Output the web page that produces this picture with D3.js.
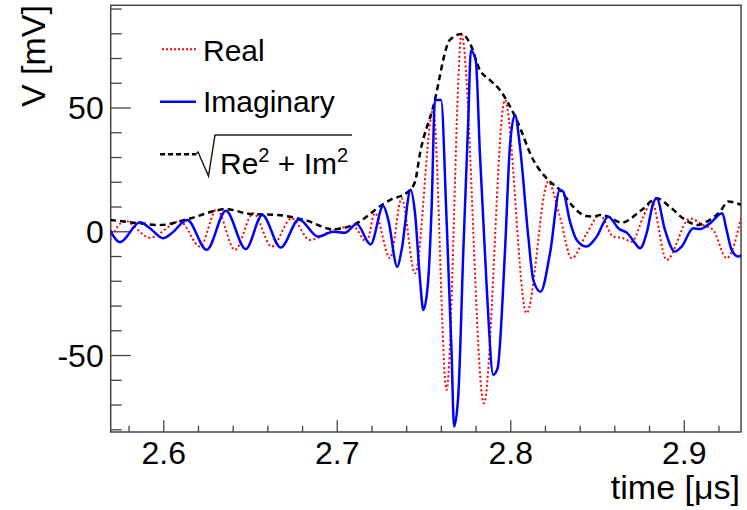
<!DOCTYPE html>
<html>
<head>
<meta charset="utf-8">
<script src="https://cdn.jsdelivr.net/npm/d3@7"></script>
<style>
  body { margin: 0; background: white; }
  text { font-family: "Liberation Sans", Arial, sans-serif; }
</style>
</head>
<body>
<div id="container"></div>
<script>
// time [us] and voltage [mV]
let realTime = [2.5693, 2.5779, 2.5923, 2.6096, 2.6212, 2.6308, 2.6413, 2.6519, 2.6625, 2.6740,
  2.6846, 2.6980, 2.7095, 2.7172, 2.7220, 2.7307, 2.7374, 2.7451, 2.7556, 2.7633,
  2.7720, 2.7848, 2.7969, 2.8094, 2.8219, 2.8286, 2.8354, 2.8440, 2.8517, 2.8594,
  2.8651, 2.8700, 2.8767, 2.8815, 2.8901, 2.9035, 2.9113, 2.9170, 2.9247, 2.9334];
let realValue = [-3.5, 4.2, -2.6, 4.0, -6.2, 8.9, -7.5, 7.3, -6.2, 5.2,
  -3.5, 0.5, 1.9, -4.2, 7.3, -10.9, 13.3, -17, 49, -64.1,
  79.3, -69.5, 53, -33.1, 20, 5.9, -10.9, -1.0, 6.6, -2.2,
  -2.8, -4.2, 5.9, 12, -11.6, 5.2, 2.5, 0.5, -10.9, 6.6];

let imagTime = [2.5693, 2.5750, 2.5866, 2.5923, 2.6000, 2.6048, 2.6138, 2.6250, 2.6361, 2.6475,
  2.6571, 2.6677, 2.6782, 2.6893, 2.6980, 2.7047, 2.7115, 2.7195, 2.7268, 2.7297,
  2.7349, 2.7374, 2.7426, 2.7451, 2.7480, 2.7499, 2.7527, 2.7547, 2.7566, 2.7601,
  2.7633, 2.7662, 2.7676, 2.7700, 2.7729, 2.7758, 2.7773, 2.7801, 2.7825, 2.7864,
  2.7902, 2.7927, 2.7969, 2.7998, 2.8027, 2.8056, 2.8104, 2.8133, 2.8175, 2.8229,
  2.8286, 2.8305, 2.8344, 2.8383, 2.8440, 2.8498, 2.8565, 2.8623, 2.8680, 2.8719,
  2.8748, 2.8786, 2.8824, 2.8844, 2.8892, 2.8949, 2.8988, 2.9055, 2.9094, 2.9151,
  2.9222, 2.9247, 2.9276, 2.9314, 2.9334];
let imagValue = [0.5, -4.4, 3.6, 1.2, -2.8, -0.8, 4.6, -7.5, 8.3, -7.2,
  6.6, -6.6, 4.8, -2.2, -0.2, -0.6, 2.9, -5.3, 10.2, 4.6,
  -14.4, -7.5, 16.8, 7.3, -19.7, -31.8, -19.7, 10, 53, 53,
  4.6, -49.3, -78.9, -66.8, -8.9, 45, 72.9, 69.2, 31.5, -22.4,
  -58, -55.3, -8.9, 34.2, 47, 34.2, -2.2, -19.7, -24.4, -8.9,
  16.7, 16, 4, -3.5, -6.2, -2.2, 5.9, 1.2, -1.1, -4.8,
  -6.9, -0.8, 11.3, 13.3, 0.5, -8.2, -6.2, 1.2, 0.9, 3.2,
  7.3, 0.5, -7.5, -10.2, -9.6];

let absTime = [2.5693, 2.5866, 2.5981, 2.6135, 2.6365, 2.6500, 2.6654, 2.6827, 2.6980, 2.7105,
  2.7268, 2.7307, 2.7412, 2.7451, 2.7480, 2.7556, 2.7652, 2.7720, 2.7768, 2.7825,
  2.7883, 2.7941, 2.8037, 2.8133, 2.8219, 2.8286, 2.8363, 2.8392, 2.8431, 2.8478,
  2.8517, 2.8565, 2.8642, 2.8757, 2.8844, 2.8920, 2.8997, 2.9084, 2.9132, 2.9209,
  2.9257, 2.9334];
let absValue = [4.6, 3.2, 2.5, 4.8, 8.9, 7.0, 6.6, 4.3, 0.8, 2.9,
  11, 12.6, 16, 20, 31.5, 50.3, 77.3, 79.7, 75.9, 65.1,
  61.1, 57, 45, 28.8, 20.7, 16.7, 9.9, 7.9, 6.3, 5.9,
  6.6, 5.9, 3.5, 8.6, 13.3, 9.9, 5.2, 2.5, 3.9, 7.9,
  12, 10.6];

let xMajorTicks = [2.6, 2.7, 2.8, 2.9];
let yMajorTicks = [-50, 0, 50];
let xDomain = [2.5697, 2.9330];
let yDomain = [-81.1, 91.3];

let w = 747;
let h = 510;
let padLeft = 110.7, padRight = 741, padTop = 5.3, padBottom = 432;

let viz = d3.select("#container")
  .append("svg")
    .attr("width", w)
    .attr("height", h)
;

let xScale = d3.scaleLinear().domain(xDomain).range([padLeft, padRight]);
let yScale = d3.scaleLinear().domain(yDomain).range([padBottom, padTop]);

// minor ticks: 0.02 us and 10 mV
let xMinor = d3.range(2.58, 2.935, 0.02).filter(function(d){ return Math.abs(d*10 - Math.round(d*10)) > 1e-6; });
let yMinor = d3.range(-80, 91, 10).filter(function(d){ return d % 50 != 0; });

function styleAxis(g){
  g.select(".domain").remove();
  g.selectAll(".tick line").attr("stroke", "#444").attr("stroke-width", 1.3);
  g.selectAll("text")
    .attr("fill", "black")
    .style("font-family", "'Liberation Sans', Arial, sans-serif");
}

viz.append("g")
    .attr("transform", "translate(0," + padBottom + ")")
    .call(d3.axisBottom(xScale).tickValues(xMinor).tickSize(-6.3).tickFormat(""))
    .call(styleAxis);
viz.append("g")
    .attr("transform", "translate(0," + padBottom + ")")
    .call(d3.axisBottom(xScale).tickValues(xMajorTicks).tickSize(-11.7).tickPadding(8).tickFormat(d3.format(".1f")))
    .call(styleAxis)
    .selectAll("text")
      .attr("y", 32)
      .attr("dy", 0)
      .style("font-size", "32px");

viz.append("g")
    .attr("transform", "translate(" + padLeft + ",0)")
    .call(d3.axisLeft(yScale).tickValues(yMinor).tickSize(-11).tickFormat(""))
    .call(styleAxis);
viz.append("g")
    .attr("transform", "translate(" + padLeft + ",0)")
    .call(d3.axisLeft(yScale).tickValues(yMajorTicks).tickSize(-20).tickPadding(7)
      .tickFormat(function(d){ return String(d); }))
    .call(styleAxis)
    .selectAll("text")
      .attr("dy", "0.35em")
      .style("font-size", "32px");

// frame
viz.append("rect")
    .attr("x", padLeft)
    .attr("y", padTop)
    .attr("width", padRight - padLeft)
    .attr("height", padBottom - padTop)
    .attr("fill", "none")
    .attr("stroke", "#444")
    .attr("stroke-width", 1.5);

viz.append("clipPath").attr("id", "plotclip")
  .append("rect")
    .attr("x", padLeft).attr("y", padTop)
    .attr("width", padRight - padLeft).attr("height", padBottom - padTop);

let graphGroup = viz.append("g").attr("clip-path", "url(#plotclip)");

let lineMaker = d3.line()
  .x(function(d){ return xScale(d[0]); })
  .y(function(d){ return yScale(d[1]); })
  .curve(d3.curveMonotoneX)
;

let series = [
  { t: realTime, v: realValue, color: "#ff0000", width: 2, dash: "2,2.5" },
  { t: absTime, v: absValue, color: "black", width: 2.5, dash: "6,4" },
  { t: imagTime, v: imagValue, color: "#0000ff", width: 2.5, dash: null }
];

graphGroup.selectAll(".line").data(series).enter()
  .append("path")
    .attr("class", "line")
    .attr("d", function(s){ return lineMaker(d3.zip(s.t, s.v)); })
    .attr("fill", "none")
    .attr("stroke", function(s){ return s.color; })
    .attr("stroke-width", function(s){ return s.width; })
    .attr("stroke-dasharray", function(s){ return s.dash; })
    .attr("stroke-linejoin", "round");

// axis titles
viz.append("text")
    .attr("transform", "translate(45,5) rotate(-90)")
    .attr("text-anchor", "end")
    .style("font-size", "34px")
    .text("V [mV]");
viz.append("text")
    .attr("x", 740)
    .attr("y", 499)
    .attr("text-anchor", "end")
    .style("font-size", "34px")
    .text("time [μs]");

// legend
let legend = viz.append("g");
legend.append("line")
    .attr("x1", 162).attr("x2", 196).attr("y1", 49.3).attr("y2", 49.3)
    .attr("stroke", "#ff0000").attr("stroke-width", 2).attr("stroke-dasharray", "2,2");
legend.append("text").attr("x", 203).attr("y", 61).style("font-size", "30px").text("Real");

legend.append("line")
    .attr("x1", 160).attr("x2", 196).attr("y1", 101.7).attr("y2", 101.7)
    .attr("stroke", "#0000ff").attr("stroke-width", 2.5);
legend.append("text").attr("x", 203).attr("y", 111.7).style("font-size", "30px").text("Imaginary");

legend.append("line")
    .attr("x1", 160).attr("x2", 196).attr("y1", 154.3).attr("y2", 154.3)
    .attr("stroke", "black").attr("stroke-width", 2.5).attr("stroke-dasharray", "5,3");
legend.append("path")
    .attr("d", "M195,155 L198,152 L208.5,176 L215,135 L352,135")
    .attr("fill", "none")
    .attr("stroke", "#222")
    .attr("stroke-width", 1.5);
let sq = legend.append("text").attr("x", 220).attr("y", 174).style("font-size", "30px");
sq.append("tspan").text("Re");
sq.append("tspan").attr("dy", -12).style("font-size", "20px").text("2");
sq.append("tspan").attr("dy", 12).text(" + Im");
sq.append("tspan").attr("dy", -12).style("font-size", "20px").text("2");
</script>
</body>
</html>
